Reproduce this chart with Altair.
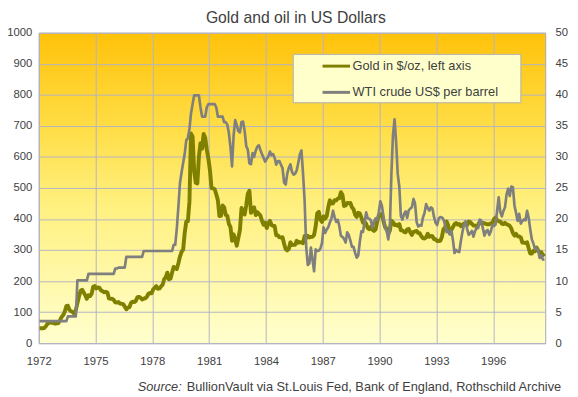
import altair as alt
import pandas as pd

TITLE = ["Gold and oil in US Dollars"]
GOLD_LABEL = "Gold in $/oz, left axis"
OIL_LABEL = "WTI crude US$ per barrel"
SOURCE_LEAD = ["Source:"]
SOURCE_TEXT = ["BullionVault via St.Louis Fed, Bank of England, Rothschild Archive"]

START_YEAR = 1972
x_ticks = [1972, 1975, 1978, 1981, 1984, 1987, 1990, 1993, 1996]
gold_ticks = [0, 100, 200, 300, 400, 500, 600, 700, 800, 900, 1000]
oil_ticks = [0, 5, 10, 15, 20, 25, 30, 35, 40, 45, 50]

# monthly gold, $/oz (Jan 1972 ...)
gold_1970s = [
    48.3, 48.3, 48.3, 49.0, 54.6, 62.1, 65.7, 67.0, 65.5, 64.9, 62.9, 63.9,
    65.1, 74.2, 84.4, 90.5, 102.0, 120.1, 120.4, 106.8, 103.0, 100.1, 94.8, 106.7,
    129.2, 150.2, 168.4, 172.2, 163.3, 154.1, 142.9, 154.6, 151.8, 158.8, 181.7, 183.8,
    176.3, 179.6, 178.0, 169.8, 167.2, 164.2, 165.1, 163.0, 144.1, 142.8, 142.9, 139.3,
    131.6, 131.1, 132.5, 128.0, 126.9, 125.7, 117.9, 109.2, 114.3, 116.1, 130.3, 133.9,
    132.3, 136.3, 148.3, 149.2, 146.6, 140.8, 143.4, 144.8, 149.4, 159.3, 161.9, 160.5,
    173.2, 178.2, 183.7, 175.1, 176.3, 183.1, 188.3, 206.1, 212.4, 227.2, 206.0, 207.8,
    227.3, 245.7, 242.1, 239.2, 257.6, 279.1, 294.4, 300.8, 355.1, 391.7, 392.5, 455.1,
]
gold_1980s = [
    675.3, 665.3, 553.6, 516.7, 514.3, 600.7, 644.3, 626.5, 673.6, 661.1, 623.5, 594.9,
    557.1, 499.6, 498.8, 495.8, 479.7, 460.8, 409.3, 410.1, 443.6, 437.8, 413.4, 410.1,
    384.0, 374.1, 330.0, 350.5, 333.6, 314.0, 339.1, 364.3, 435.3, 422.9, 414.6, 444.3,
    481.0, 491.2, 419.7, 432.3, 437.4, 413.0, 422.2, 416.2, 411.5, 393.6, 381.7, 388.3,
    370.9, 386.0, 394.1, 381.2, 377.3, 377.4, 347.6, 347.6, 341.4, 340.2, 341.2, 320.2,
    302.8, 299.0, 303.9, 324.9, 316.5, 316.6, 317.3, 329.9, 323.8, 325.7, 324.9, 322.2,
    345.4, 338.9, 345.7, 340.4, 342.5, 342.9, 348.5, 376.2, 417.9, 423.0, 397.8, 390.9,
    408.3, 401.1, 408.9, 438.4, 460.2, 449.6, 450.5, 460.6, 460.2, 465.4, 466.9, 486.3,
    477.4, 442.0, 443.6, 451.7, 451.2, 451.4, 437.5, 431.4, 413.5, 406.9, 420.1, 418.4,
    404.2, 387.9, 390.2, 384.4, 371.0, 367.6, 375.0, 365.4, 361.8, 366.9, 392.3, 409.3,
]
gold_1990s = [
    410.1, 416.8, 393.1, 374.3, 369.1, 352.3, 362.5, 394.9, 389.3, 380.8, 381.5, 378.2,
    383.6, 363.8, 363.3, 358.4, 356.8, 366.7, 367.7, 356.5, 348.7, 358.7, 359.6, 361.7,
    354.5, 353.9, 344.3, 338.6, 337.2, 340.8, 352.7, 342.9, 345.3, 344.4, 335.0, 334.7,
    329.0, 329.3, 330.1, 342.2, 367.2, 371.9, 392.0, 379.8, 355.3, 364.2, 373.8, 383.3,
    386.9, 381.9, 384.1, 377.3, 381.4, 385.6, 385.5, 380.4, 391.6, 389.8, 384.4, 379.3,
    378.6, 376.6, 382.1, 391.1, 385.2, 387.6, 386.2, 383.7, 383.1, 383.1, 386.1, 387.4,
    399.4, 404.8, 396.2, 392.9, 391.8, 385.3, 383.5, 387.5, 383.1, 381.1, 377.9, 369.2,
    354.9, 346.6, 351.9, 344.5, 343.8, 340.8, 324.1, 324.0, 322.8, 324.9, 306.0, 288.7,
    289.1, 297.5, 295.9, 308.4, 299.1, 292.3, 292.9, 284.1, 288.9,
]

# monthly WTI crude, US$ per barrel (Jan 1972 ...)
oil_1970s = [
    3.56, 3.56, 3.56, 3.56, 3.56, 3.56, 3.56, 3.56, 3.56, 3.56, 3.56, 3.56,
    3.56, 3.56, 3.56, 3.56, 3.56, 3.56, 4.31, 4.31, 4.31, 4.31, 4.31, 4.31,
    10.11, 10.11, 10.11, 10.11, 10.11, 10.11, 10.11, 11.16, 11.16, 11.16, 11.16, 11.16,
    11.16, 11.16, 11.16, 11.16, 11.16, 11.16, 11.16, 11.16, 11.16, 11.16, 11.16, 11.16,
    12.03, 12.03, 12.17, 12.17, 12.17, 12.17, 12.17, 13.90, 13.90, 13.90, 13.90, 13.90,
    13.90, 13.90, 13.90, 13.90, 13.90, 13.90, 14.85, 14.85, 14.85, 14.85, 14.85, 14.85,
    14.85, 14.85, 14.85, 14.85, 14.85, 14.85, 14.85, 14.85, 14.85, 14.85, 14.85, 14.85,
    14.85, 15.85, 15.85, 18.5, 22.0, 25.8, 27.5, 29.0, 30.5, 32.7, 33.0, 34.5,
]
oil_1980s = [
    37.0, 38.5, 39.9, 39.9, 39.9, 39.9, 38.0, 36.5, 36.5, 36.5, 38.0, 38.5,
    38.5, 38.5, 38.5, 38.5, 38.0, 36.5, 36.5, 36.5, 36.5, 35.6, 35.6, 35.2,
    33.85, 31.56, 28.48, 33.45, 35.93, 35.07, 34.16, 33.95, 35.63, 35.68, 34.15, 31.72,
    31.18, 28.95, 28.82, 30.61, 30.00, 31.00, 31.66, 31.90, 31.11, 30.41, 29.84, 29.24,
    29.70, 30.05, 30.85, 30.26, 30.45, 29.86, 28.75, 29.33, 29.32, 28.75, 28.20, 25.86,
    25.56, 27.31, 28.25, 28.81, 27.58, 27.14, 27.32, 27.84, 29.06, 30.42, 31.04, 27.30,
    22.93, 15.46, 12.61, 12.84, 15.38, 13.43, 11.58, 15.10, 14.87, 14.90, 15.22, 16.11,
    18.65, 17.75, 18.30, 18.68, 19.44, 20.07, 21.34, 20.31, 19.53, 19.86, 18.85, 17.28,
    17.13, 16.80, 16.20, 17.86, 17.42, 16.53, 15.50, 15.52, 14.54, 13.77, 14.14, 16.38,
    18.02, 17.94, 19.48, 21.07, 20.12, 20.05, 19.78, 18.58, 19.59, 20.10, 19.86, 21.10,
]
oil_1990s = [
    22.86, 22.11, 20.39, 18.43, 18.20, 16.70, 18.45, 27.31, 33.51, 36.04, 32.33, 27.28,
    25.23, 20.48, 19.90, 20.83, 21.23, 20.19, 21.40, 21.69, 21.89, 23.23, 22.46, 19.50,
    18.79, 19.01, 18.92, 20.23, 20.98, 22.39, 21.78, 21.34, 21.88, 21.69, 20.34, 19.41,
    19.03, 20.09, 20.32, 20.25, 19.95, 19.09, 17.89, 18.01, 17.50, 18.15, 16.61, 14.52,
    15.03, 14.78, 14.68, 16.42, 17.89, 19.06, 19.65, 18.38, 17.45, 17.72, 18.07, 17.16,
    18.04, 18.57, 18.54, 19.90, 19.74, 18.45, 17.33, 18.02, 18.23, 17.43, 17.99, 19.03,
    18.85, 19.09, 21.33, 23.50, 21.17, 20.42, 21.30, 21.90, 23.97, 24.88, 23.71, 25.23,
    25.13, 22.18, 20.97, 19.70, 20.82, 19.26, 19.66, 19.95, 19.80, 21.33, 20.19, 18.33,
    16.72, 16.06, 15.12, 15.35, 14.91, 13.72, 14.17, 13.47, 13.50,
]

gold_all = gold_1970s + gold_1980s + gold_1990s
oil_all = oil_1970s + oil_1980s + oil_1990s
n_months = len(gold_all)
x_end = START_YEAR + n_months / 12.0

gold_df = pd.DataFrame({
    "t": [START_YEAR + (i + 0.5) / 12.0 for i in range(len(gold_all))],
    "value": gold_all,
    "series": GOLD_LABEL,
})
oil_df = pd.DataFrame({
    "t": [START_YEAR + (i + 0.5) / 12.0 for i in range(len(oil_all))],
    "value": oil_all,
    "series": OIL_LABEL,
})

W, H = 515.5, 316
FONT = "Liberation Sans"
TXT = "#404040"
GRID = "#B4B4C4"
GOLD_C = "#808000"
OIL_C = "#7F7F7F"
AXIS_FS = 11.5

x_enc = alt.X(
    "t:Q",
    scale=alt.Scale(domain=[START_YEAR, x_end], nice=False, zero=False),
    axis=alt.Axis(values=x_ticks, format="d", title=None, grid=True,
                  gridColor=GRID, gridWidth=1, ticks=False, tickSize=0, domain=False,
                  labelFlush=False, labelBaseline="alphabetic", labelPadding=21.8,
                  labelFont=FONT, labelFontSize=AXIS_FS, labelColor=TXT),
)

color_enc = alt.Color(
    "series:N",
    scale=alt.Scale(domain=[GOLD_LABEL, OIL_LABEL], range=[GOLD_C, OIL_C]),
    legend=alt.Legend(
        title=None, orient="none", legendX=259, legendY=22, direction="vertical",
        symbolType="M-3,0H3", symbolSize=87, symbolStrokeWidth=3,
        symbolOffset=31.85, labelOffset=10.05, padding=5.5, rowPadding=12.7,
        labelFont=FONT, labelFontSize=13, labelColor=TXT, labelLimit=400,
    ),
)

legend_box = alt.Chart(pd.DataFrame({"k": [0]})).mark_rect(
    fill="#FFFFCC", stroke="#AEAEAE", strokeWidth=1
).encode(x=alt.value(259), x2=alt.value(490.7), y=alt.value(22), y2=alt.value(71.3))

gold_line = alt.Chart(gold_df).mark_line(strokeWidth=4, strokeJoin="round").encode(
    x=x_enc,
    y=alt.Y("value:Q", scale=alt.Scale(domain=[0, 1000], nice=False),
            axis=alt.Axis(values=gold_ticks, format="d", title=None, orient="left", grid=True,
                          gridColor=GRID, gridWidth=1, ticks=False, tickSize=0, domain=False,
                          labelPadding=7, labelFont=FONT, labelFontSize=AXIS_FS,
                          labelColor=TXT)),
    color=color_enc,
)

oil_line = alt.Chart(oil_df).mark_line(strokeWidth=2.7, strokeJoin="round").encode(
    x=x_enc,
    y=alt.Y("value:Q", scale=alt.Scale(domain=[0, 50], nice=False),
            axis=alt.Axis(values=oil_ticks, format="d", title=None, orient="right", grid=False,
                          ticks=False, tickSize=0, domain=False, labelPadding=10,
                          labelFont=FONT, labelFontSize=AXIS_FS, labelColor=TXT)),
    color=color_enc,
)

title_text = alt.Chart(pd.DataFrame({"s": TITLE})).mark_text(
    align="center", baseline="alphabetic", font=FONT, fontSize=16, color=TXT
).encode(x=alt.value(261.7), y=alt.value(-9.7), text="s:N")

src_lead = alt.Chart(pd.DataFrame({"s": SOURCE_LEAD})).mark_text(
    align="right", baseline="alphabetic", font=FONT, fontSize=13, fontStyle="italic", color=TXT
).encode(x=alt.value(145.5), y=alt.value(364.8), text="s:N")

src_rest = alt.Chart(pd.DataFrame({"s": SOURCE_TEXT})).mark_text(
    align="right", baseline="alphabetic", font=FONT, fontSize=13, color=TXT
).encode(x=alt.value(531.7), y=alt.value(364.8), text="s:N")

gradient_expr = (
    "{gradient: 'linear', x1: 0, y1: 0, x2: 0, y2: 1, stops: ["
    "{offset: 0, color: '#FFC20A'}, {offset: 0.3, color: '#FFDD45'}, "
    "{offset: 0.55, color: '#FFF07E'}, {offset: 1, color: '#FFFFCE'}]}"
)

chart = alt.layer(
    legend_box, gold_line, oil_line, title_text, src_lead, src_rest
).resolve_scale(
    y="independent"
).properties(
    width=W, height=H,
    autosize=alt.AutoSizeParams(type="none"),
    padding={"left": 31.3, "top": 21.7, "right": 25.2, "bottom": 51.3},
).configure_view(
    fill={"expr": gradient_expr}, stroke="#A6A6B0", strokeWidth=1
)

chart.save("out.html", embed_options={"renderer": "svg", "actions": False})
